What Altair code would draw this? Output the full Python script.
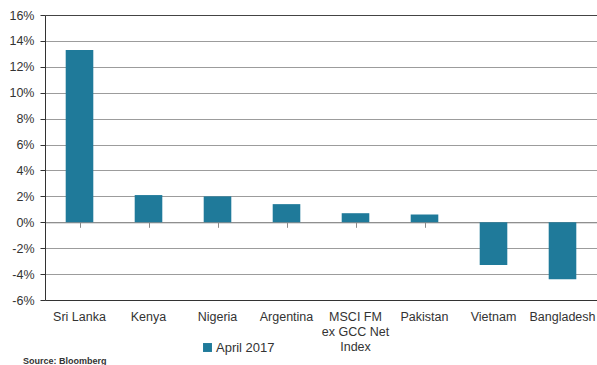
import altair as alt
import pandas as pd

# Monthly returns, April 2017 (%)
markets = ["Sri Lanka", "Kenya", "Nigeria", "Argentina", "MSCI FM ex GCC Net Index",
           "Pakistan", "Vietnam", "Bangladesh"]
returns = [13.3, 2.1, 2.0, 1.4, 0.7, 0.6, -3.3, -4.4]
series = ["April 2017"] * len(markets)
y_ticks = [-6, -4, -2, 0, 2, 4, 6, 8, 10, 12, 14, 16]

df = pd.DataFrame({"market": markets, "ret": returns, "series": series})

BAR = "#1f7a9a"
FONT = "Liberation Sans"

label_expr = (
    "datum.value == 'MSCI FM ex GCC Net Index' ? ['MSCI FM', 'ex GCC Net', 'Index'] : datum.label"
)

y_scale = alt.Scale(domain=[-6, 16], nice=False, zero=False)
y_axis = alt.Axis(
    values=y_ticks,
    labelExpr="datum.value + '%'",
    labelOverlap=False,
    title=None,
    grid=True,
    gridColor={"condition": {"test": "datum.value === 16", "value": "#444444"}, "value": "#9c9c9c"},
    gridWidth=1,
    domainColor="#333333",
    tickColor="#333333",
    tickSize=5,
    labelPadding=6,
    labelFontSize=12.5,
    labelColor="#333333",
    labelFont=FONT,
)

bars = alt.Chart(df).mark_bar(color=BAR).encode(
    x=alt.X(
        "market:N",
        sort=markets,
        scale=alt.Scale(paddingInner=0.6, paddingOuter=0.3),
        axis=alt.Axis(
            title=None,
            orient="bottom",
            labelAngle=0,
            labelExpr=label_expr,
            labelFontSize=12.5,
            labelColor="#333333",
            labelFont=FONT,
            labelPadding=10,
            labelLineHeight=15,
            labelBaseline="top",
            labelOverlap=False,
            ticks=False,
            domainColor="#333333",
            grid=False,
        ),
    ),
    y=alt.Y("ret:Q", scale=y_scale, axis=y_axis),
    color=alt.Color(
        "series:N",
        scale=alt.Scale(range=[BAR]),
        legend=alt.Legend(
            title=None,
            orient="none",
            legendX=156,
            legendY=326,
            symbolType="square",
            symbolSize=80,
            symbolStrokeWidth=0,
            labelFontSize=13,
            labelColor="#333333",
            labelFont=FONT,
            labelOffset=2,
        ),
    ),
)

# Zero line with category separators, drawn as a second x axis lifted to y = 0
zero_axis = alt.Chart(df).mark_point(opacity=0).encode(
    x=alt.X(
        "market:N",
        sort=markets,
        scale=alt.Scale(paddingInner=0, paddingOuter=0),
        axis=alt.Axis(
            title=None,
            orient="bottom",
            offset=-77.7,
            labels=False,
            bandPosition=0,
            ticks=True,
            tickSize=5,
            tickColor="#8a8a8a",
            domainColor="#8a8a8a",
            grid=False,
        ),
    ),
    y=alt.Y("zero:Q", scale=y_scale, axis=y_axis),
).transform_calculate(zero="0")

chart = (
    alt.layer(bars, zero_axis)
    .resolve_scale(x="independent")
    .resolve_axis(x="independent")
    .properties(
        width=552,
        height=285,
        autosize=alt.AutoSizeParams(type="none"),
        padding={"left": 45, "top": 15, "right": 0, "bottom": 65},
        title=alt.TitleParams(
            "Source: Bloomberg",
            orient="bottom",
            anchor="start",
            offset=2,
            dx=14,
            fontSize=9,
            fontWeight="bold",
            color="#333333",
            font=FONT,
        ),
    )
    .configure_view(stroke=None)
)

chart.save("out.html", embed_options={"renderer": "svg", "actions": False})
